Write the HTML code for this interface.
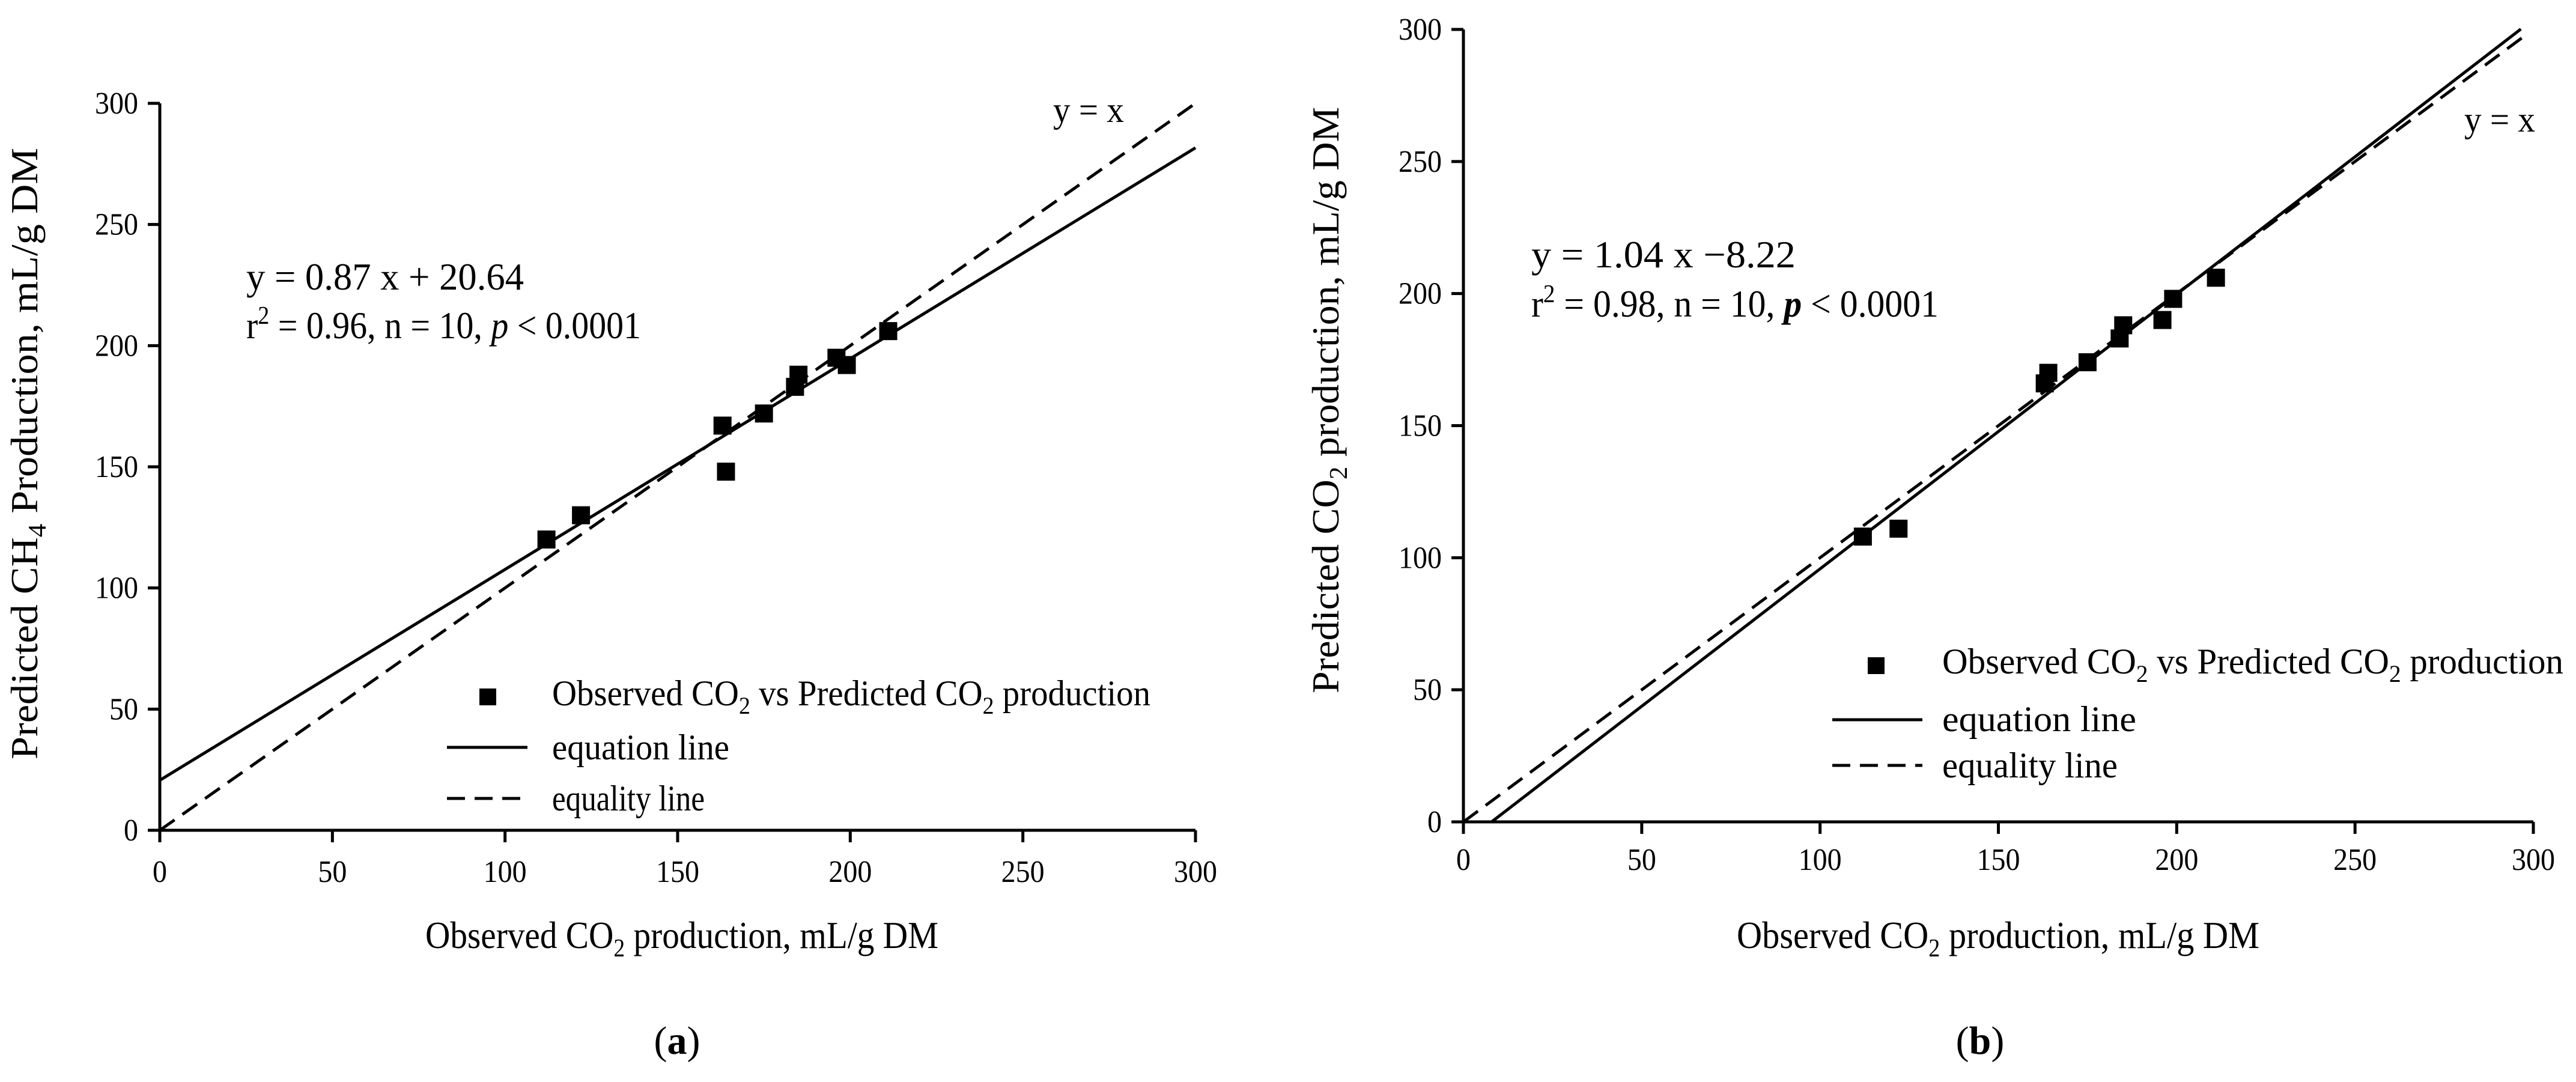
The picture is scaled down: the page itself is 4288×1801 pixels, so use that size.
<!DOCTYPE html>
<html><head><meta charset="utf-8"><style>
html,body{margin:0;padding:0;background:#fff;}
svg{display:block;}
text{font-family:"Liberation Serif",serif;fill:#000;}
</style></head>
<body>
<svg id="fig" width="4288" height="1801" viewBox="0 0 4288 1801" xmlns="http://www.w3.org/2000/svg">
<g id="pa"></g>
<g id="pb"></g>
<g id="txt">
  <text x="62" y="755" font-size="64" text-anchor="middle" transform="rotate(-90 62 755)" textLength="1018" lengthAdjust="spacingAndGlyphs">Predicted CH<tspan font-size="42" dy="14">4</tspan><tspan dy="-14"> Production, mL/g DM</tspan></text>
  <text x="708" y="1578" font-size="64" textLength="854" lengthAdjust="spacingAndGlyphs">Observed CO<tspan font-size="42" dy="14">2</tspan><tspan dy="-14"> production, mL/g DM</tspan></text>
  <text x="410" y="482" font-size="64" textLength="462" lengthAdjust="spacingAndGlyphs">y = 0.87 x + 20.64</text>
  <text x="410" y="563" font-size="64" textLength="657" lengthAdjust="spacingAndGlyphs">r<tspan font-size="42" dy="-24">2</tspan><tspan dy="24"> = 0.96, n = 10, </tspan><tspan font-style="italic">p</tspan> &lt; 0.0001</text>
  <text x="1753" y="203" font-size="60" textLength="118" lengthAdjust="spacingAndGlyphs">y = x</text>
  <rect x="798" y="1146" width="28" height="28" fill="#000"/>
  <text x="919" y="1174" font-size="60" textLength="996" lengthAdjust="spacingAndGlyphs">Observed CO<tspan font-size="40" dy="14">2</tspan><tspan dy="-14"> vs Predicted CO</tspan><tspan font-size="40" dy="14">2</tspan><tspan dy="-14"> production</tspan></text>
  <line x1="744" y1="1244" x2="878" y2="1244" stroke="#000" stroke-width="5"/>
  <text x="919" y="1264" font-size="60" textLength="295" lengthAdjust="spacingAndGlyphs">equation line</text>
  <line x1="744" y1="1329" x2="878" y2="1329" stroke="#000" stroke-width="5" stroke-dasharray="30,16"/>
  <text x="919" y="1349" font-size="60" textLength="254" lengthAdjust="spacingAndGlyphs">equality line</text>
  <text x="1127" y="1754" font-size="66" text-anchor="middle">(<tspan font-weight="bold">a</tspan>)</text>
  <text x="2228" y="666" font-size="64" text-anchor="middle" transform="rotate(-90 2228 666)" textLength="976" lengthAdjust="spacingAndGlyphs">Predicted CO<tspan font-size="42" dy="14">2</tspan><tspan dy="-14"> production, mL/g DM</tspan></text>
  <text x="2891" y="1578" font-size="64" textLength="870" lengthAdjust="spacingAndGlyphs">Observed CO<tspan font-size="42" dy="14">2</tspan><tspan dy="-14"> production, mL/g DM</tspan></text>
  <text x="2549" y="445" font-size="64" textLength="440" lengthAdjust="spacingAndGlyphs">y = 1.04 x −8.22</text>
  <text x="2549" y="527" font-size="64" textLength="678" lengthAdjust="spacingAndGlyphs">r<tspan font-size="42" dy="-24">2</tspan><tspan dy="24"> = 0.98, n = 10, </tspan><tspan font-style="italic" font-weight="bold">p</tspan> &lt; 0.0001</text>
  <text x="4102" y="219" font-size="60" textLength="118" lengthAdjust="spacingAndGlyphs">y = x</text>
  <rect x="3109" y="1094" width="28" height="28" fill="#000"/>
  <text x="3233" y="1121" font-size="60" textLength="1034" lengthAdjust="spacingAndGlyphs">Observed CO<tspan font-size="40" dy="14">2</tspan><tspan dy="-14"> vs Predicted CO</tspan><tspan font-size="40" dy="14">2</tspan><tspan dy="-14"> production</tspan></text>
  <line x1="3050" y1="1198" x2="3200" y2="1198" stroke="#000" stroke-width="5"/>
  <text x="3233" y="1217" font-size="60" textLength="323" lengthAdjust="spacingAndGlyphs">equation line</text>
  <line x1="3050" y1="1274" x2="3200" y2="1274" stroke="#000" stroke-width="5" stroke-dasharray="30,16"/>
  <text x="3233" y="1294" font-size="60" textLength="292" lengthAdjust="spacingAndGlyphs">equality line</text>
  <text x="3296" y="1754" font-size="66" text-anchor="middle">(<tspan font-weight="bold">b</tspan>)</text>
</g>
</svg>
<script>
const ticks = [0, 50, 100, 150, 200, 250, 300];
const tickLabels = ["0", "50", "100", "150", "200", "250", "300"];
const observedA = [112, 122, 163, 164, 175, 184, 185, 196, 199, 211];
const predictedA = [120, 130, 167, 148, 172, 183, 188, 195, 192, 206];
const observedB = [112, 122, 163, 164, 175, 184, 185, 196, 199, 211];
const predictedB = [108, 111, 166, 170, 174, 183, 188, 190, 198, 206];
const slopeA = 0.87, interceptA = 20.64;
const slopeB = 1.04, interceptB = -8.22;

const NS = "http://www.w3.org/2000/svg";
function mk(tag, attrs, parent) {
  const e = document.createElementNS(NS, tag);
  for (const k in attrs) e.setAttribute(k, attrs[k]);
  parent.appendChild(e);
  return e;
}
function panel(g, P, obs, pred, slope, intercept, lineStart, lineEnd, eqEnd, suffix) {
  const sx = v => P.x0 + v / 300 * (P.x1 - P.x0);
  const sy = v => P.y0 - v / 300 * (P.y0 - P.y1);
  const xa = mk("line", {x1: P.x0, y1: P.y0, x2: P.x1, y2: P.y0, stroke: "#000", "stroke-width": 5}, g);
  
  
  const ya = mk("line", {x1: P.x0, y1: P.y0, x2: P.x0, y2: P.y1, stroke: "#000", "stroke-width": 5}, g);
  
  
  ticks.forEach((t, i) => {
    const w = tickLabels[i].length * 24;
    const tx = mk("line", {x1: sx(t), y1: P.y0, x2: sx(t), y2: P.y0 + 20, stroke: "#000", "stroke-width": 5}, g);
    
    
    const lx = mk("text", {x: sx(t) - w / 2, y: P.y0 + P.xlab, "font-size": 52, textLength: w, lengthAdjust: "spacingAndGlyphs"}, g);
    lx.textContent = tickLabels[i];
    
    
    const ty = mk("line", {x1: P.x0 - 20, y1: sy(t), x2: P.x0, y2: sy(t), stroke: "#000", "stroke-width": 5}, g);
    
    
    const ly = mk("text", {x: P.x0 - 36 - w, y: sy(t) + 17, "font-size": 52, textLength: w, lengthAdjust: "spacingAndGlyphs"}, g);
    ly.textContent = tickLabels[i];
    
    
  });
  const eq = mk("line", {x1: sx(0), y1: sy(0), x2: sx(eqEnd), y2: sy(eqEnd), stroke: "#000", "stroke-width": 5, "stroke-dasharray": "30,16"}, g);
  
  
  const rl = mk("line", {x1: sx(lineStart), y1: sy(slope * lineStart + intercept), x2: sx(lineEnd), y2: sy(slope * lineEnd + intercept), stroke: "#000", "stroke-width": 5}, g);
  
  
  obs.forEach((o, i) => {
    const r = mk("rect", {x: sx(o) - 15, y: sy(pred[i]) - 15, width: 30, height: 30, fill: "#000"}, g);
    
    
  });
}
panel(document.getElementById("pa"), {x0: 266, x1: 1990, y0: 1382, y1: 172, xlab: 86},
  observedA, predictedA, slopeA, interceptA, 0, 300, 300, "a");
panel(document.getElementById("pb"), {x0: 2436, x1: 4217, y0: 1368, y1: 49, xlab: 80},
  observedB, predictedB, slopeB, interceptB, -interceptB / slopeB, 296.5, 297, "b");
</script>
</body></html>
